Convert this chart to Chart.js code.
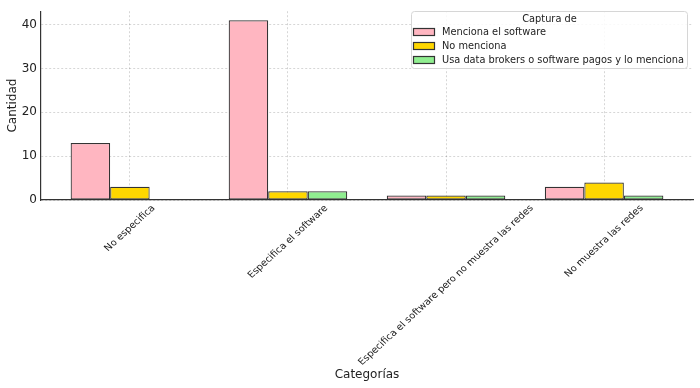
<!DOCTYPE html>
<html>
<head>
<meta charset="utf-8">
<script src="https://cdn.jsdelivr.net/npm/chart.js@4/dist/chart.umd.min.js"></script>
<style>
  html, body { margin: 0; padding: 0; background: #fff; }
  #wrap { width: 700px; height: 388px; }
</style>
</head>
<body>
<div id="wrap"><canvas id="c" width="700" height="388"></canvas></div>
<script>
const categories = [
  "No especifica",
  "Especifica el software",
  "Especifica el software pero no muestra las redes",
  "No muestra las redes"
];
const seriesNames = [
  "Menciona el software",
  "No menciona",
  "Usa data brokers o software pagos y lo menciona"
];
const menciona = [13, 41, 1, 3];
const noMenciona = [3, 2, 1, 4];
const dataBrokers = [0, 2, 1, 1];
const yTicks = [0, 10, 20, 30, 40];
const legendTitle = "Captura de";
const xTitle = "Categorías";
const yTitle = "Cantidad";

const colors = ["#FFB6C1", "#FFD700", "#90EE90"];
const FONT = "'DejaVu Sans', sans-serif";
Chart.defaults.font.family = FONT;
Chart.defaults.color = "#222";

function toPoints(arr) { return arr.map((v, i) => ({ x: i, y: v })); }

// x tick labels rotated 45° and centred under each tick (matplotlib ha="center");
// the reference image is slightly compressed vertically, so the labels are too.
const xLabelPlugin = {
  id: 'centeredRotatedLabels',
  afterDraw(chart) {
    const ctx = chart.ctx;
    const scale = chart.scales.x;
    const size = 10;
    const squash = 0.915;
    const top = chart.chartArea.bottom + 3;
    ctx.save();
    ctx.font = size + "px " + FONT;
    ctx.fillStyle = "#222";
    ctx.textAlign = "center";
    ctx.textBaseline = "middle";
    categories.forEach((lab, i) => {
      const x = scale.getPixelForValue(i);
      const w = ctx.measureText(lab).width;
      const h = size * 1.16;
      const box = (w + h) * Math.SQRT1_2;
      ctx.save();
      ctx.translate(x, top + box * squash / 2);
      ctx.scale(1, squash);
      ctx.rotate(-Math.PI / 4);
      ctx.fillText(lab, 0, 0);
      ctx.restore();
    });
    ctx.restore();
  }
};

const legendPlugin = {
  id: 'innerLegend',
  afterDraw(chart) {
    const ctx = chart.ctx;
    const x0 = 411.5, y0 = 11.5, w = 276, h = 57;
    ctx.save();
    ctx.beginPath();
    const r = 3;
    ctx.moveTo(x0 + r, y0);
    ctx.arcTo(x0 + w, y0, x0 + w, y0 + h, r);
    ctx.arcTo(x0 + w, y0 + h, x0, y0 + h, r);
    ctx.arcTo(x0, y0 + h, x0, y0, r);
    ctx.arcTo(x0, y0, x0 + w, y0, r);
    ctx.closePath();
    ctx.fillStyle = "rgba(255,255,255,0.85)";
    ctx.fill();
    ctx.strokeStyle = "#d6d6d6";
    ctx.lineWidth = 1;
    ctx.stroke();
    ctx.fillStyle = "#222";
    ctx.font = "9.8px " + FONT;
    ctx.textAlign = "center";
    ctx.textBaseline = "middle";
    ctx.fillText(legendTitle, x0 + w / 2, 19);
    const rows = [32, 46, 60];
    chart.data.datasets.forEach((ds, i) => {
      const cy = rows[i];
      ctx.fillStyle = ds.backgroundColor;
      ctx.fillRect(413.5, cy - 3.5, 21, 7);
      ctx.strokeStyle = "#333";
      ctx.lineWidth = 1.2;
      ctx.strokeRect(413.5, cy - 3.5, 21, 7);
      ctx.fillStyle = "#222";
      ctx.textAlign = "left";
      ctx.fillText(ds.label, 442, cy + 0.5);
    });
    ctx.restore();
  }
};

const gridOpts = { color: "rgba(0,0,0,0.16)", drawTicks: false, offset: false };
const borderOpts = { display: true, color: "#333", width: 1.2, dash: [2, 2] };

new Chart(document.getElementById('c'), {
  type: 'bar',
  data: {
    datasets: [
      { label: seriesNames[0], data: toPoints(menciona), backgroundColor: colors[0] },
      { label: seriesNames[1], data: toPoints(noMenciona), backgroundColor: colors[1] },
      { label: seriesNames[2], data: toPoints(dataBrokers), backgroundColor: colors[2] }
    ].map(d => Object.assign(d, { borderColor: "#333", borderWidth: 1.2, borderSkipped: false,
        categoryPercentage: 0.75, barPercentage: 1.0 }))
  },
  options: {
    responsive: false,
    animation: false,
    layout: { padding: { left: 2, right: 7, top: 6, bottom: 3 } },
    plugins: { legend: { display: false }, tooltip: { enabled: false } },
    scales: {
      x: {
        type: 'linear',
        min: -0.5625,
        max: 3.5625,
        offset: false,
        afterBuildTicks(scale) { scale.ticks = categories.map((_, i) => ({ value: i })); },
        afterFit(scale) { scale.height = 185; },
        ticks: { display: false },
        grid: gridOpts,
        border: borderOpts,
        title: { display: true, text: xTitle, font: { size: 12 }, color: "#222", padding: { top: 4, bottom: 3 } }
      },
      y: {
        min: 0,
        max: 43.05,
        afterBuildTicks(scale) { scale.ticks = yTicks.map(v => ({ value: v })); },
        afterFit(scale) { scale.width = 39; },
        ticks: { font: { size: 12 }, color: "#222", padding: 4 },
        grid: gridOpts,
        border: borderOpts,
        title: { display: true, text: yTitle, font: { size: 12 }, color: "#222", padding: { top: 4, bottom: 4 } }
      }
    }
  },
  plugins: [xLabelPlugin, legendPlugin]
});
</script>
</body>
</html>
